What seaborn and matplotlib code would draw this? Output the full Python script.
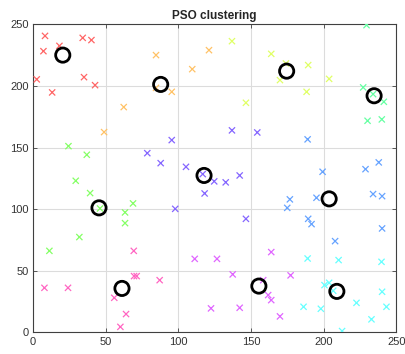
import numpy as np
import pandas as pd
import matplotlib
matplotlib.use("Agg")
import matplotlib.pyplot as plt
import seaborn as sns
import colorsys

# ---- data ----
red_x = [8.4, 7.3, 18.3, 34.3, 40.3, 2.7, 13.3, 35.2, 42.8]
red_y = [240.7, 228.3, 232.6, 239.1, 237.3, 205.4, 194.8, 207.2, 200.7]
orange_x = [84.7, 121.1, 109.6, 84.7, 95.5, 62.5, 49.0]
orange_y = [225.1, 229.1, 213.7, 198.5, 195.3, 182.9, 162.6]
yellow_x = [136.9, 163.9, 174.0, 189.3, 169.9, 203.7, 188.2, 146.5]
yellow_y = [236.4, 226.1, 218.3, 217.0, 204.8, 205.8, 195.3, 186.4]
green_x = [24.5, 37.1, 29.5, 39.4, 46.2, 68.9, 63.4, 63.4, 32.0, 11.4]
green_y = [151.2, 144.2, 123.1, 113.1, 100.6, 104.7, 97.4, 88.7, 77.4, 66.2]
spring_x = [229.4, 227.1, 233.9, 241.3, 230.1, 239.9]
spring_y = [249.4, 198.9, 193.4, 187.2, 171.8, 172.9]
cyan_x = [188.9, 210.2, 239.7, 200.5, 203.7, 206.5, 240.1, 222.5, 243.1, 186.1, 198.0, 232.8, 212.6]
cyan_y = [60.0, 58.7, 57.3, 38.4, 40.3, 33.8, 33.0, 24.0, 20.8, 20.8, 19.2, 10.6, 1.1]
azure_x = [188.9, 199.2, 228.7, 237.8, 176.7, 174.9, 195.0, 233.9, 240.1, 189.3, 191.6, 240.1, 207.8]
azure_y = [156.7, 130.4, 132.5, 138.0, 108.0, 101.1, 109.3, 112.3, 110.6, 92.2, 87.9, 84.4, 74.1]
violet_x = [95.5, 78.7, 87.9, 105.3, 136.9, 154.3, 116.8, 124.7, 118.1, 97.9, 132.6, 142.2, 146.5]
violet_y = [156.1, 145.5, 137.4, 134.4, 164.0, 162.3, 128.5, 122.6, 112.8, 100.3, 121.8, 127.4, 92.2]
magenta_x = [111.3, 126.6, 122.5, 163.9, 137.4, 177.2, 142.2, 158.4, 161.8, 163.9, 169.9]
magenta_y = [59.7, 59.7, 19.5, 65.2, 47.1, 46.3, 20.0, 42.4, 30.3, 26.2, 13.0]
pink_x = [69.4, 69.6, 71.4, 87.2, 8.0, 24.2, 56.0, 64.1, 60.2]
pink_y = [66.2, 45.7, 45.7, 42.4, 36.2, 36.2, 28.1, 14.9, 4.5]

center_x = [20.6, 87.9, 174.5, 45.5, 234.6, 209.0, 203.7, 117.7, 155.4, 61.3]
center_y = [225.1, 201.3, 212.1, 101.1, 192.1, 33.3, 108.4, 127.4, 37.6, 35.7]

clusters = ["1", "2", "3", "4", "5", "6", "7", "8", "9", "10"]
groups_x = [red_x, orange_x, yellow_x, green_x, spring_x, cyan_x, azure_x, violet_x, magenta_x, pink_x]
groups_y = [red_y, orange_y, yellow_y, green_y, spring_y, cyan_y, azure_y, violet_y, magenta_y, pink_y]

rows = []
for c, gx, gy in zip(clusters, groups_x, groups_y):
    for a, b in zip(gx, gy):
        rows.append((a, b, c))
df = pd.DataFrame(rows, columns=["x", "y", "cluster"])
centers = pd.DataFrame({"x": center_x, "y": center_y})

# MATLAB-like hsv(10) colours, lightened
alpha = 0.6
palette = []
for i in range(10):
    r, g, b = colorsys.hsv_to_rgb(i / 10, 1, 1)
    palette.append((1 - alpha + alpha * r, 1 - alpha + alpha * g, 1 - alpha + alpha * b))

sns.set_style("white")
plt.rcParams["font.family"] = ["Liberation Sans", "DejaVu Sans"]

fig = plt.figure(figsize=(4.05, 3.54), dpi=100)
ax = fig.add_axes([0.081, 0.061, 0.898, 0.870])

sns.scatterplot(data=df, x="x", y="y", hue="cluster", palette=palette, marker="x",
                s=20, linewidth=0.9, legend=False, ax=ax, zorder=3)
sns.scatterplot(data=centers, x="x", y="y", marker="o", s=105, facecolor="none",
                edgecolor="black", linewidth=2.0, legend=False, ax=ax, zorder=4)

ax.set_xlim(0, 250)
ax.set_ylim(0, 250)
ax.set_xticks(np.arange(0, 251, 50))
ax.set_yticks(np.arange(0, 251, 50))
ax.grid(True, color="#dcdcdc", linewidth=0.8)
ax.set_axisbelow(True)
ax.set_xlabel("")
ax.set_ylabel("")
ax.tick_params(direction="in", length=3, width=0.6, colors="#404040", labelsize=8,
               labelcolor="#333333", top=True, right=True, bottom=True, left=True, pad=3)
for sp in ax.spines.values():
    sp.set_color("#404040")
    sp.set_linewidth(0.8)
ax.set_title("PSO clustering", fontsize=8.5, fontweight="bold", pad=4)

fig.savefig("out.png", dpi=100)
